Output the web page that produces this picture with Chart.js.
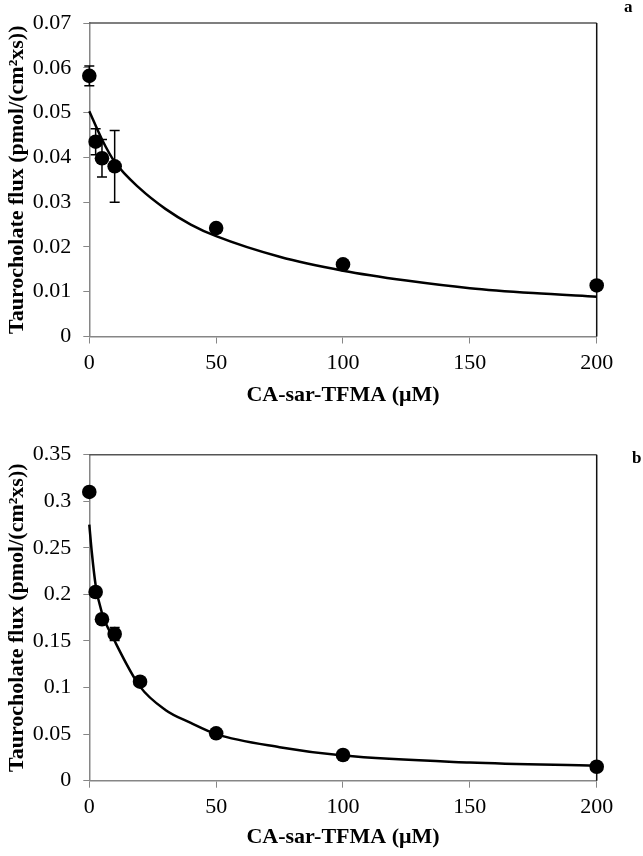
<!DOCTYPE html>
<html>
<head>
<meta charset="utf-8">
<script src="https://cdn.jsdelivr.net/npm/chart.js@4.4.1/dist/chart.umd.min.js"></script>
<style>
  html, body { margin: 0; padding: 0; background: #fff; }
  #wrap { position: relative; width: 643px; height: 856px; }
  canvas { position: absolute; left: 0; }
  #ca { top: 0; }
  #cb { top: 428px; }
</style>
</head>
<body>
<div id="wrap">
  <canvas id="ca" width="643" height="428"></canvas>
  <canvas id="cb" width="643" height="428"></canvas>
</div>
<script>
// ---- Panel a data ----
const concA = [0, 2.5, 5, 10, 50, 100, 200];
const fluxA = [0.0582, 0.0435, 0.0398, 0.0380, 0.0242, 0.0161, 0.0114];
const errA  = [0.0022, 0.0029, 0.0042, 0.0080, 0, 0, 0];
const fitXA = [0, 5, 10, 20, 30, 40, 50, 75, 100, 125, 150, 175, 200];
const fitYA = [0.0503, 0.0440, 0.0390, 0.0330, 0.0285, 0.0250, 0.0224, 0.0178, 0.0147, 0.0125, 0.0108, 0.0097, 0.0089];
const yTicksA = [0, 0.01, 0.02, 0.03, 0.04, 0.05, 0.06, 0.07];

// ---- Panel b data ----
const concB = [0, 2.5, 5, 10, 20, 50, 100, 200];
const fluxB = [0.310, 0.2026, 0.1733, 0.1575, 0.1063, 0.0509, 0.0276, 0.0150];
const errB  = [0, 0, 0, 0.007, 0, 0, 0, 0];
const fitXB = [0, 1, 2.5, 5, 10, 20, 30, 40, 50, 75, 100, 150, 200];
const fitYB = [0.275, 0.245, 0.210, 0.180, 0.150, 0.101, 0.076, 0.062, 0.050, 0.036, 0.027, 0.0195, 0.016];
const yTicksB = [0, 0.05, 0.1, 0.15, 0.2, 0.25, 0.3, 0.35];

const xTicks = [0, 50, 100, 150, 200];
const xTitle = 'CA-sar-TFMA (μM)';
const yTitle = 'Taurocholate flux (pmol/(cm²xs))';

const SERIF = '"Liberation Serif", "Times New Roman", serif';
const AXIS_GRAY = '#868686';

const errorBarPlugin = {
  id: 'errorBars',
  beforeDatasetsDraw(chart, args, opts) {
    const { ctx, scales: { x, y } } = chart;
    const xs = opts.xs, ys = opts.ys, es = opts.errs;
    ctx.save();
    ctx.strokeStyle = '#000';
    ctx.lineWidth = 1.5;
    for (let i = 0; i < xs.length; i++) {
      if (!es[i]) continue;
      const px = x.getPixelForValue(xs[i]);
      const pt = y.getPixelForValue(ys[i] + es[i]);
      const pb = y.getPixelForValue(ys[i] - es[i]);
      ctx.beginPath();
      ctx.moveTo(px, pt); ctx.lineTo(px, pb);
      ctx.moveTo(px - 5, pt); ctx.lineTo(px + 5, pt);
      ctx.moveTo(px - 5, pb); ctx.lineTo(px + 5, pb);
      ctx.stroke();
    }
    ctx.restore();
  }
};

const framePlugin = {
  id: 'frame',
  beforeDatasetsDraw(chart, args, opts) {
    const { ctx, chartArea: a } = chart;
    ctx.save();
    ctx.lineWidth = 1.5;
    ctx.strokeStyle = '#555';
    ctx.beginPath();
    ctx.moveTo(a.left, a.top); ctx.lineTo(a.right, a.top);
    ctx.stroke();
    ctx.strokeStyle = '#111';
    ctx.beginPath();
    ctx.moveTo(a.right, a.top); ctx.lineTo(a.right, a.bottom);
    ctx.stroke();
    ctx.restore();
  },
  afterDraw(chart, args, opts) {
    const { ctx } = chart;
    ctx.save();
    ctx.fillStyle = '#000';
    ctx.font = 'bold 17px ' + SERIF;
    ctx.textBaseline = 'alphabetic';
    ctx.textAlign = 'left';
    ctx.fillText(opts.letter, opts.lx, opts.ly);
    ctx.restore();
  }
};

function makeChart(id, xs, ys, errs, fx, fy, yTicks, yMax, pad, xH, yW, letter, lx, ly) {
  const fmt = v => String(Number(Number(v).toFixed(3)));
  return new Chart(document.getElementById(id), {
    type: 'scatter',
    data: {
      datasets: [
        {
          label: 'data',
          data: xs.map((v, i) => ({ x: v, y: ys[i] })),
          backgroundColor: '#000',
          borderColor: '#000',
          pointRadius: 7.3,
          pointHoverRadius: 7.3,
          borderWidth: 0,
          showLine: false,
          clip: false,
          order: 0
        },
        {
          label: 'fit',
          data: fx.map((v, i) => ({ x: v, y: fy[i] })),
          borderColor: '#000',
          borderWidth: 2.5,
          pointRadius: 0,
          showLine: true,
          fill: false,
          clip: false,
          cubicInterpolationMode: 'monotone',
          order: 1
        }
      ]
    },
    options: {
      responsive: false,
      animation: false,
      devicePixelRatio: 1,
      layout: { padding: pad },
      plugins: {
        legend: { display: false },
        tooltip: { enabled: false },
        errorBars: { xs: xs, ys: ys, errs: errs },
        frame: { letter: letter, lx: lx, ly: ly }
      },
      scales: {
        x: {
          type: 'linear',
          min: 0, max: 200,
          afterFit: s => { s.height = xH; },
          afterBuildTicks: s => { s.ticks = xTicks.map(v => ({ value: v })); },
          grid: { drawOnChartArea: false, drawTicks: true, tickLength: 7, color: AXIS_GRAY, lineWidth: 1 },
          border: { display: true, color: AXIS_GRAY, width: 1.5 },
          ticks: { color: '#000', padding: 9, maxRotation: 0, font: { family: SERIF, size: 22, lineHeight: 1 }, callback: v => String(v) },
          title: { display: true, text: xTitle, color: '#000', padding: 0, font: { family: SERIF, size: 22, weight: 'bold', lineHeight: 1.2 } }
        },
        y: {
          type: 'linear',
          min: 0, max: yMax,
          afterFit: s => { s.width = yW; },
          afterBuildTicks: s => { s.ticks = yTicks.map(v => ({ value: v })); },
          grid: { drawOnChartArea: false, drawTicks: true, tickLength: 6, color: AXIS_GRAY, lineWidth: 1 },
          border: { display: true, color: AXIS_GRAY, width: 1.5 },
          ticks: { color: '#000', padding: 12, font: { family: SERIF, size: 22, lineHeight: 1 }, callback: fmt },
          title: { display: true, text: yTitle, color: '#000', padding: 0, font: { family: SERIF, size: 22, weight: 'bold', lineHeight: 1.2 } }
        }
      }
    },
    plugins: [errorBarPlugin, framePlugin]
  });
}

makeChart('ca', concA, fluxA, errA, fitXA, fitYA, yTicksA, 0.07,
  { top: 11, right: 46.3, left: 3.8, bottom: 19 }, 72.5, 85.5, 'a', 624, 12);
makeChart('cb', concB, fluxB, errB, fitXB, fitYB, yTicksB, 0.35,
  { top: 26.7, right: 46.3, left: 3.8, bottom: 5.6 }, 69.7, 85.5, 'b', 632, 35);
</script>
</body>
</html>
